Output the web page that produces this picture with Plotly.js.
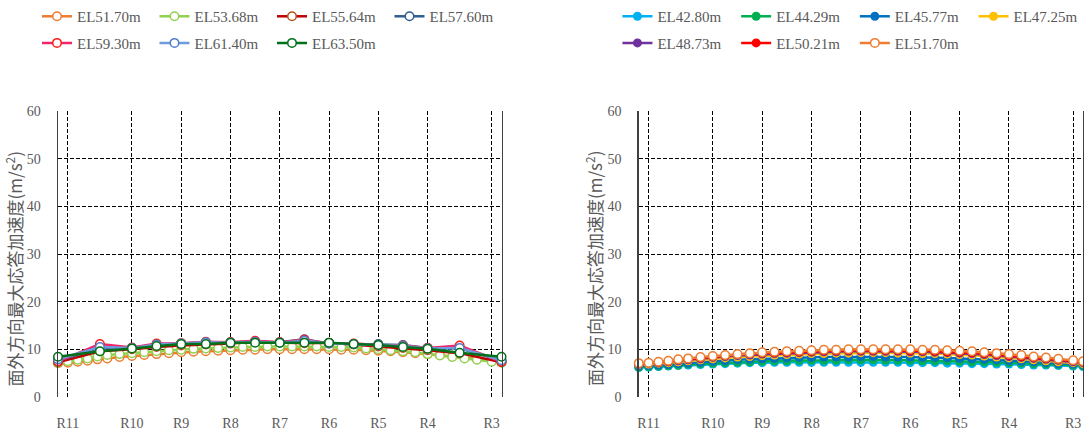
<!DOCTYPE html>
<html><head><meta charset="utf-8">
<script src="https://cdn.plot.ly/plotly-3.0.1.min.js"></script>
<style>html,body{margin:0;padding:0;background:#fff}#chart{width:1084px;height:434px}</style>
</head><body><div id="chart"></div>
<script>
// ---- data ----
const rLabels = ['R11','R10','R9','R8','R7','R6','R5','R4','R3'];
const rPos    = [2, 15, 25, 35, 45, 55, 65, 75, 88];

const xDense  = [0,2,4,6,8,10,12.5,15,17.5,20,22.5,25,27.5,30,32.5,35,37.5,40,42.5,45,47.5,50,52.5,55,57.5,60,62.5,65,67.5,70,72.5,75,77.5,80,82.5,85,88,90];
const xSparse = [0,8.5,15,20,25,30,35,40,45,50,55,60,65,70,75,81.5,90];

const el5170 = [7.1,7.2,7.4,7.6,7.9,8.1,8.4,8.6,8.8,9.0,9.2,9.4,9.5,9.6,9.7,9.8,9.9,9.9,10.0,10.0,10.0,10.0,10.0,10.0,9.9,9.9,9.8,9.7,9.6,9.4,9.2,9.0,8.8,8.5,8.3,8.0,7.7,7.5];
const el5368 = [7.2,7.5,7.8,8.1,8.5,8.8,9.0,9.2,9.4,9.6,9.8,9.9,10.1,10.2,10.3,10.4,10.5,10.5,10.6,10.6,10.6,10.6,10.6,10.5,10.5,10.4,10.2,10.0,9.8,9.6,9.4,9.0,8.7,8.4,8.1,7.8,7.4,7.2];
const el5564 = [7.3,9.6,10.0,10.5,10.8,11.0,11.2,11.6,11.4,11.3,11.4,11.0,10.6,10.3,9.8,9.2,7.3];
const el5760 = [7.6,10.3,10.3,11.0,11.2,11.5,11.5,11.6,11.5,12.1,11.2,11.1,11.1,10.9,10.3,10.2,7.6];
const el5930 = [7.5,11.1,10.4,11.2,11.3,11.6,11.5,11.8,11.5,12.0,11.3,11.2,10.9,10.8,10.3,10.8,7.4];
const el6140 = [7.9,10.5,10.3,11.0,11.2,11.5,11.4,11.6,11.4,11.8,11.3,11.1,10.9,10.7,10.2,10.3,7.7];
const el6350 = [8.45,9.6,10.2,10.7,11.1,11.1,11.4,11.4,11.4,11.4,11.4,11.1,10.9,10.5,10.1,9.3,8.45];

const el4280 = [6.2,6.3,6.4,6.5,6.6,6.7,6.8,6.9,7.0,7.1,7.2,7.2,7.3,7.3,7.3,7.3,7.3,7.3,7.3,7.3,7.3,7.3,7.3,7.2,7.2,7.2,7.1,7.1,7.0,7.0,6.9,6.9,6.8,6.7,6.7,6.6,6.5,6.4];
const el4429 = [6.3,6.4,6.5,6.6,6.7,6.9,7.0,7.1,7.2,7.3,7.4,7.5,7.6,7.6,7.7,7.7,7.7,7.7,7.8,7.8,7.8,7.7,7.7,7.7,7.6,7.6,7.6,7.5,7.4,7.4,7.3,7.2,7.1,7.0,6.9,6.8,6.7,6.6];
const el4577 = [6.5,6.6,6.7,6.8,7.0,7.1,7.3,7.5,7.6,7.8,7.9,8.0,8.1,8.2,8.3,8.3,8.4,8.4,8.4,8.5,8.5,8.4,8.4,8.4,8.3,8.3,8.2,8.1,8.0,7.9,7.8,7.6,7.5,7.4,7.2,7.0,6.9,6.8];
const el4725 = [6.8,6.9,7.1,7.2,7.4,7.6,7.8,8.0,8.2,8.4,8.5,8.7,8.8,8.9,9.0,9.1,9.1,9.2,9.2,9.3,9.3,9.3,9.2,9.2,9.1,9.1,9.0,8.9,8.8,8.6,8.4,8.2,8.0,7.8,7.6,7.4,7.2,7.0];
const el4873 = [6.9,7.1,7.2,7.4,7.6,7.8,8.0,8.3,8.5,8.7,8.8,9.0,9.1,9.2,9.3,9.4,9.5,9.5,9.6,9.6,9.6,9.6,9.6,9.5,9.5,9.4,9.3,9.2,9.1,8.9,8.7,8.5,8.3,8.1,7.9,7.7,7.4,7.2];
const el5021 = [7.0,7.2,7.3,7.5,7.8,8.0,8.2,8.5,8.7,8.9,9.1,9.2,9.3,9.4,9.5,9.6,9.7,9.7,9.8,9.8,9.8,9.8,9.8,9.7,9.7,9.6,9.5,9.4,9.3,9.1,8.9,8.7,8.5,8.3,8.1,7.9,7.6,7.4];

const yTitle = '面外方向最大応答加速度(m/s<sup>2</sup>)';

// ---- styles ----
const legFont = {family:'Liberation Serif', size:15, color:'#595959'};
const tickFont = {family:'Liberation Serif', size:14, color:'#595959'};

function hollow(name, x, y, lineColor, ringColor, xa, ya, leg) {
  return {type:'scatter', mode:'lines+markers', name, x, y, xaxis:xa, yaxis:ya, legend:leg,
    cliponaxis:false,
    line:{color:lineColor, width:2.5},
    marker:{symbol:'circle', size:8.5, color:'#ffffff', line:{color:ringColor, width:1.5}}};
}
function solid(name, x, y, c, leg) {
  return {type:'scatter', mode:'lines+markers', name, x, y, xaxis:'x2', yaxis:'y2', legend:leg,
    cliponaxis:false,
    line:{color:c, width:2.5},
    marker:{symbol:'circle', size:9, color:c}};
}

const traces = [
  hollow('EL51.70m', xDense, el5170, '#ED7D31', '#ED7D31', 'x', 'y', 'legend'),
  hollow('EL53.68m', xDense, el5368, '#92D050', '#92D050', 'x', 'y', 'legend'),
  hollow('EL55.64m', xSparse, el5564, '#C00000', '#B5541C', 'x', 'y', 'legend'),
  hollow('EL57.60m', xSparse, el5760, '#2F5F8F', '#2F5F8F', 'x', 'y', 'legend'),
  hollow('EL59.30m', xSparse, el5930, '#F0286A', '#FF1A1A', 'x', 'y', 'legend2'),
  hollow('EL61.40m', xSparse, el6140, '#6E9BDB', '#4F7FD0', 'x', 'y', 'legend2'),
  hollow('EL63.50m', xSparse, el6350, '#00701A', '#00701A', 'x', 'y', 'legend2'),

  solid('EL42.80m', xDense, el4280, '#00B0F0', 'legend3'),
  solid('EL44.29m', xDense, el4429, '#00B050', 'legend3'),
  solid('EL45.77m', xDense, el4577, '#0070C0', 'legend3'),
  solid('EL47.25m', xDense, el4725, '#FFC000', 'legend3'),
  solid('EL48.73m', xDense, el4873, '#7030A0', 'legend4'),
  solid('EL50.21m', xDense, el5021, '#FF0000', 'legend4'),
  hollow('EL51.70m', xDense, el5170, '#ED7D31', '#ED7D31', 'x2', 'y2', 'legend4')
];

function xAxis(domain, anchor) {
  return {domain, anchor, range:[0,90], tickvals:rPos, ticktext:rLabels,
    showgrid:true, gridcolor:'#000000', gridwidth:1, griddash:'4px,2px',
    zeroline:false, showline:false, ticks:'outside', ticklen:13, tickcolor:'rgba(0,0,0,0)',
    tickfont:tickFont, fixedrange:true};
}
function yAxis(anchor) {
  return {anchor, domain:[0,1], range:[0,60], dtick:10, tick0:0,
    showgrid:true, gridcolor:'#000000', gridwidth:1, griddash:'4px,2px',
    zeroline:false, showline:true, mirror:true, linecolor:'#404040', linewidth:1.5,
    ticks:'outside', ticklen:13, tickcolor:'rgba(0,0,0,0)', tickfont:tickFont, fixedrange:true};
}
function legendCfg(x, y, w) {
  return {x, y, xanchor:'left', yanchor:'top', orientation:'h', entrywidth:w,
    font:legFont, bgcolor:'rgba(0,0,0,0)', borderwidth:0, traceorder:'normal'};
}

const layout = {
  width:1084, height:434,
  margin:{l:58, r:0.7, t:111, b:37, autoexpand:false},
  paper_bgcolor:'#ffffff', plot_bgcolor:'#ffffff',
  showlegend:true,
  xaxis: xAxis([0, 0.4327], 'y'),
  yaxis: yAxis('x'),
  xaxis2: xAxis([0.5666, 1], 'y2'),
  yaxis2: yAxis('x2'),
  legend:  legendCfg(-0.0205, 1.388, 72.5),
  legend2: legendCfg(-0.0205, 1.295, 72.5),
  legend3: legendCfg(0.5458, 1.388, 73.7),
  legend4: legendCfg(0.5458, 1.295, 73.7),
  annotations:[
    {text:yTitle, xref:'paper', yref:'paper', x:-0.043, y:0.449, xanchor:'center', yanchor:'middle',
     textangle:-90, showarrow:false, font:{family:'Noto Sans CJK JP', size:17, color:'#595959'}},
    {text:yTitle, xref:'paper', yref:'paper', x:0.5224, y:0.449, xanchor:'center', yanchor:'middle',
     textangle:-90, showarrow:false, font:{family:'Noto Sans CJK JP', size:17, color:'#595959'}}
  ]
};

Plotly.newPlot('chart', traces, layout, {staticPlot:true, displayModeBar:false});
</script>
</body></html>
